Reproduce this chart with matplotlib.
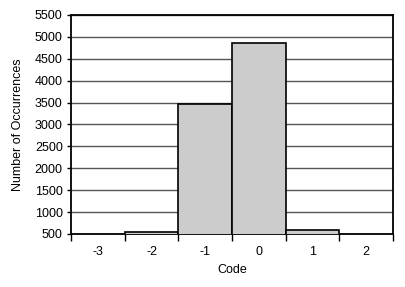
import matplotlib
matplotlib.use("Agg")
import matplotlib.pyplot as plt
import numpy as np

codes = ["-3", "-2", "-1", "0", "1", "2"]
counts = [0, 540, 3460, 4850, 590, 0]
yticks = list(range(500, 5501, 500))

plt.rcParams['font.family'] = ['Liberation Sans', 'DejaVu Sans']

fig = plt.figure(figsize=(4.06, 2.87), dpi=100)
ax = fig.add_axes([0.175, 0.185, 0.793, 0.763])

x = np.arange(len(codes))
ax.bar(x, counts, width=1.0, color='#cccccc', edgecolor='black', linewidth=1.2, zorder=3)

ax.set_xlim(-0.5, len(codes) - 0.5)
ax.set_ylim(500, 5500)
ax.set_yticks(yticks)
ax.set_yticklabels([str(v) for v in yticks], fontsize=9)
ax.yaxis.grid(True, color='#555555', linewidth=1.0, zorder=0)

# ticks at bin edges, labels at bin centres
ax.set_xticks(np.arange(len(codes) + 1) - 0.5)
ax.set_xticklabels([])
ax.set_xticks(x, minor=True)
ax.set_xticklabels(codes, minor=True, fontsize=9)
ax.tick_params(axis='x', which='major', length=5, width=1, direction='out')
ax.tick_params(axis='x', which='minor', length=0, pad=9)
ax.tick_params(axis='y', length=3, width=1, direction='out', pad=3)

for s in ax.spines.values():
    s.set_linewidth(1.3)

ax.set_xlabel("Code", fontsize=9, labelpad=4)
ax.set_ylabel("Number of Occurrences", fontsize=9, labelpad=8)

fig.savefig("out.png", dpi=100)
